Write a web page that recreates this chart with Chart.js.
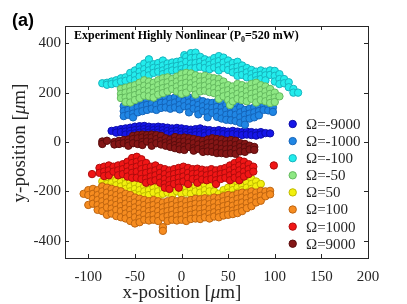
<!DOCTYPE html>
<html>
<head>
<meta charset="utf-8">
<script src="https://cdn.jsdelivr.net/npm/chart.js@4.4.1/dist/chart.umd.min.js"></script>
<style>
  body { margin: 0; background: #fff; }
  canvas { display: block; }
</style>
</head>
<body>
<canvas id="scatterChart" width="407" height="304"></canvas>
<script>
// tick values shown on the axes
const xTickVals = [-100, -50, 0, 50, 100, 150, 200];
const yTickVals = [-400, -200, 0, 200, 400];

// legend labels, in legend order
const seriesLabels = ['Ω=-9000', 'Ω=-1000', 'Ω=-100', 'Ω=-50', 'Ω=50', 'Ω=100', 'Ω=1000', 'Ω=9000'];

// measured positions, grouped as [x, [y, y, ...]] (µm)
const omegaM9000 = [
  [-75, [45]], [-70, [48, 38]], [-65, [52, 40]], [-60, [55, 42, 30]], [-55, [58, 45, 32]],
  [-50, [62, 48, 35]], [-45, [64, 50, 38]], [-40, [65, 52, 40]], [-35, [62, 50, 38]],
  [-30, [60, 48, 36]], [-25, [62, 50, 38]], [-20, [60, 48, 35]], [-15, [58, 45, 32]],
  [-10, [55, 42, 30, 15]], [-5, [57, 45, 32, 18]], [0, [55, 42, 30, 10]], [5, [52, 40, 28, -5]],
  [10, [50, 38, 25, -10]], [15, [52, 40, 28, -12]], [20, [55, 42, 30, -15]], [25, [50, 38, 25, -18]],
  [30, [48, 36, -15]], [35, [45, 33, -18]], [40, [48, 35, -20]], [45, [45, 32, -15]],
  [50, [42, 30, -10]], [55, [45, 32, -18]], [60, [42, 30, -12]], [65, [40, 28]], [70, [42, 30]],
  [75, [40, 28]], [80, [38, 26]], [85, [40, 30]], [90, [36]], [95, [35]]
];
const omegaM1000 = [
  [-62, [145, 125, 105]], [-57, [150, 130, 110]], [-52, [155, 135, 115, 100]], [-47, [160, 140, 120]],
  [-42, [165, 145, 125]], [-37, [170, 150, 130]], [-32, [175, 155, 135]], [-27, [170, 150, 130]],
  [-22, [178, 158, 138]], [-17, [180, 160, 140]], [-12, [175, 155, 135]], [-7, [180, 160, 140]],
  [-2, [190, 170, 150, 132]], [3, [185, 165, 145]], [8, [180, 160, 140, 120]], [13, [175, 155, 135]],
  [18, [170, 150, 130, 112]], [23, [165, 145, 125]], [28, [160, 140, 120, 100]], [33, [158, 138, 118]],
  [38, [162, 142, 122, 102]], [43, [160, 140, 120, 95]], [48, [150, 130, 110, 90]], [53, [155, 135, 115, 88]],
  [58, [150, 130, 110, 85]], [63, [140, 120, 100, 78]], [68, [130, 110, 90, 70]], [73, [135, 115, 95]],
  [78, [140, 120, 100]], [83, [145, 125, 108]], [88, [150, 130]], [93, [148, 128]], [98, [140, 122]]
];
const omegaM100 = [
  [-85, [238]], [-80, [240, 232]], [-75, [245, 235]], [-70, [250, 238]], [-65, [258, 245]],
  [-60, [262, 248]], [-55, [280, 255]], [-50, [290, 270, 250]], [-45, [305, 285, 265]],
  [-40, [318, 295, 275]], [-35, [335, 310, 290, 270]], [-30, [315, 300, 280]], [-25, [320, 300, 285]],
  [-20, [330, 310, 290, 275]], [-15, [318, 300, 283]], [-10, [322, 305, 290]], [-5, [325, 308, 290]],
  [0, [330, 312, 295, 280]], [3, [352]], [5, [345, 325, 300]], [10, [360, 340, 318, 298]],
  [15, [362, 342, 320, 300]], [20, [345, 325, 305]], [25, [335, 318, 300]], [30, [330, 312, 295]],
  [35, [340, 322, 302]], [40, [348, 328, 308, 290]], [45, [342, 322, 300]], [50, [330, 310, 292]],
  [55, [320, 300, 282]], [60, [325, 305, 285, 268]], [65, [310, 292, 272]], [70, [300, 282, 262]],
  [75, [292, 275, 258]], [80, [285, 268, 250]], [85, [290, 272, 255]], [90, [285, 270, 250]],
  [95, [290, 272]], [100, [288, 268, 245]], [105, [275, 255, 235]], [110, [255, 238]],
  [115, [242, 222]], [120, [215, 200]], [125, [200]]
];
const omegaM50 = [
  [-65, [215, 195, 178]], [-60, [220, 200, 180, 162]], [-55, [225, 205, 185, 160]], [-50, [230, 210, 190, 170]],
  [-45, [240, 218, 198, 178]], [-40, [250, 228, 208, 188]], [-35, [245, 225, 205, 185]],
  [-30, [240, 220, 200, 180]], [-25, [250, 230, 210, 192]], [-20, [258, 238, 218, 198]],
  [-15, [262, 242, 222, 205]], [-10, [255, 235, 215]], [-5, [265, 245, 225, 205]],
  [0, [275, 255, 235, 215, 195]], [5, [280, 260, 240, 220, 200]], [10, [278, 258, 238, 218]],
  [15, [270, 250, 230, 210, 192]], [20, [265, 245, 225, 205]], [25, [268, 248, 228, 208]],
  [30, [262, 242, 222, 202]], [35, [258, 238, 218, 198]], [40, [255, 235, 215, 195, 175]],
  [45, [245, 225, 205, 185]], [50, [230, 210, 190, 170]], [52, [150]], [55, [225, 205, 185, 165]],
  [60, [235, 215, 195, 175]], [65, [230, 210, 190, 170]], [70, [225, 205, 185, 165]],
  [75, [235, 215, 195, 175]], [80, [240, 220, 200, 180, 160]], [85, [230, 210, 190, 170]],
  [90, [225, 205, 185, 165]], [95, [215, 195, 175, 158]], [100, [200, 180, 162]], [105, [185]]
];
const omegaP50 = [
  [-85, [-160, -178]], [-80, [-150, -170, -188]], [-75, [-145, -165, -185]], [-70, [-155, -175, -195]],
  [-65, [-140, -160, -180, -200]], [-60, [-150, -170, -190]], [-55, [-135, -160, -180, -200]],
  [-50, [-170, -190, -210]], [-45, [-175, -195, -215]], [-40, [-180, -200, -220]],
  [-35, [-175, -195, -215]], [-30, [-185, -205]], [-25, [-180, -200, -220]], [-20, [-190, -210]],
  [-15, [-185, -205]], [-10, [-195, -215]], [-5, [-200]], [0, [-195, -210]], [5, [-185, -205]],
  [10, [-190, -210]], [15, [-180, -200]], [20, [-185, -205]], [25, [-175, -195, -215]],
  [30, [-180, -200]], [35, [-200]], [40, [-210, -228]], [45, [-195, -215]], [50, [-185, -205]],
  [55, [-175, -195, -215]], [60, [-165, -185, -205]], [65, [-155, -175, -195]],
  [70, [-145, -165, -185, -205]], [75, [-150, -170, -190]], [80, [-160, -180]], [85, [-170]]
];
const omegaP100 = [
  [-105, [-210]], [-100, [-195, -215, -255]], [-95, [-190, -210, -230, -250]],
  [-90, [-195, -215, -235, -255, -275]], [-85, [-180, -200, -220, -240, -260, -280]],
  [-80, [-185, -205, -225, -245, -265, -295]], [-75, [-190, -210, -230, -250, -270, -290]],
  [-70, [-195, -215, -235, -255, -275, -300]], [-65, [-200, -220, -240, -260, -280, -305]],
  [-60, [-210, -230, -250, -270, -290, -310]], [-55, [-215, -235, -255, -275, -295, -320]],
  [-50, [-225, -245, -265, -285, -305, -330]], [-45, [-230, -250, -270, -290, -310, -325]],
  [-40, [-235, -255, -275, -295, -315]], [-35, [-240, -260, -280, -300, -318]],
  [-30, [-235, -255, -275, -295, -315]], [-25, [-240, -260, -280, -300, -320]],
  [-20, [-245, -265, -285, -305, -345, -360]], [-15, [-240, -260, -280, -300, -320]],
  [-10, [-235, -255, -275, -295, -315]], [-5, [-240, -260, -280, -300, -318]],
  [0, [-235, -255, -275, -295, -315]], [5, [-240, -260, -280, -300, -320]],
  [10, [-235, -255, -275, -295, -312]], [15, [-230, -250, -270, -290, -310]],
  [20, [-232, -252, -272, -292, -312]], [25, [-228, -248, -268, -288, -305]],
  [30, [-232, -252, -272, -292, -310]], [35, [-225, -245, -265, -285, -302]],
  [40, [-228, -248, -268, -288, -305]], [45, [-220, -240, -260, -280, -298]],
  [50, [-215, -235, -255, -275, -295]], [55, [-218, -238, -258, -278, -292]],
  [60, [-210, -230, -250, -270, -288]], [65, [-205, -225, -245, -265, -280]],
  [70, [-208, -228, -248, -268]], [75, [-200, -220, -240, -260]], [80, [-205, -225, -245]],
  [85, [-198, -218, -238]], [90, [-200, -220]], [95, [-198, -212]]
];
const omegaP1000 = [
  [-96, [-130]], [-88, [-105, -125]], [-83, [-100, -120, -138]], [-78, [-95, -115, -135]],
  [-73, [-100, -120]], [-68, [-95, -115, -135]], [-63, [-90, -110, -130]], [-58, [-80, -100, -120, -140]],
  [-53, [-65, -85, -105, -125, -145]], [-48, [-60, -80, -100, -120, -145]],
  [-43, [-70, -90, -110, -130, -150]], [-38, [-85, -105, -125, -148, -165]],
  [-33, [-100, -120, -140, -160]], [-28, [-95, -115, -135, -155]], [-23, [-105, -125, -145, -165]],
  [-18, [-110, -130, -150, -170, -185]], [-13, [-115, -135, -155, -175, -190]],
  [-8, [-110, -130, -150, -170]], [-3, [-105, -125, -145, -165, -185]], [2, [-100, -120, -140, -160]],
  [7, [-105, -125, -145, -170]], [12, [-110, -130, -150]], [17, [-108, -128, -148, -165]],
  [22, [-112, -132, -152]], [27, [-115, -135, -155]], [32, [-110, -130, -150]],
  [37, [-115, -135, -155, -170]], [42, [-110, -130, -150]], [47, [-105, -125, -145]],
  [52, [-95, -115, -135, -155]], [57, [-85, -105, -125, -145]], [62, [-75, -95, -115, -135, -155]],
  [67, [-80, -100, -120, -140]], [72, [-90, -110, -130]], [77, [-100, -120]], [99, [-95]]
];
const omegaP9000 = [
  [-85, [2, -8]], [-80, [5]], [-72, [0, -10]], [-67, [5, -8]], [-62, [8, -5]], [-57, [10, -3, -15]],
  [-52, [25, 12, -5]], [-47, [28, 15, -8]], [-42, [30, 18, 0, -12]], [-37, [28, 15, 2]],
  [-32, [30, 18, 0, -15]], [-27, [28, 12, -5]], [-22, [25, 5, -10]], [-17, [15, -2, -15]],
  [-12, [10, -5, -20]], [-7, [20, 5, -12, -25]], [-2, [15, 0, -15, -30]], [3, [18, 2, -18, -32]],
  [8, [15, -2, -20]], [13, [12, -5, -25, -35]], [18, [8, -10, -28]], [23, [5, -12, -30, -40]],
  [28, [10, -5, -22, -38]], [33, [15, -2, -20, -40]], [38, [12, -5, -25, -45]],
  [43, [10, -8, -28, -45]], [48, [5, -10, -30, -48]], [53, [8, -8, -28, -45]],
  [58, [5, -12, -30, -48]], [63, [-5, -20, -38]], [68, [-8, -22, -40]], [73, [-15, -30]], [78, [-20, -32]]
];

const seriesCols = [omegaM9000, omegaM1000, omegaM100, omegaM50, omegaP50, omegaP100, omegaP1000, omegaP9000];
const fillColors = ['rgb(22,22,232)', 'rgb(32,134,228)', 'rgb(34,236,236)', 'rgb(142,232,132)',
                    'rgb(242,240,14)', 'rgb(246,140,32)', 'rgb(240,22,22)', 'rgb(132,22,22)'];
const edgeColors = ['rgb(12,12,170)', 'rgb(20,100,185)', 'rgb(22,180,190)', 'rgb(100,185,95)',
                    'rgb(190,185,0)', 'rgb(190,100,15)', 'rgb(175,12,12)', 'rgb(90,12,12)'];

const axisColor = '#262626';
const serif = '"Liberation Serif", "Times New Roman", serif';

const datasets = seriesCols.map((cols, i) => ({
    label: seriesLabels[i],
    data: cols.flatMap(([x, ys]) => ys.map(y => ({ x: x, y: y }))),
    backgroundColor: fillColors[i],
    borderColor: edgeColors[i],
    borderWidth: 1,
    pointRadius: 3.7,
    order: seriesCols.length - i // later series drawn on top
}));

// frame, inward ticks, legend and texts
const decorPlugin = {
    id: 'decor',
    afterDraw(chart) {
        const ctx = chart.ctx;
        const a = chart.chartArea;
        const xs = chart.scales.x;
        const ys = chart.scales.y;
        ctx.save();
        ctx.strokeStyle = axisColor;
        ctx.lineWidth = 1;
        ctx.strokeRect(Math.round(a.left) + 0.5, Math.round(a.top) + 0.5,
                       Math.round(a.right - a.left), Math.round(a.bottom - a.top));
        ctx.beginPath();
        xTickVals.forEach(v => {
            const px = Math.round(xs.getPixelForValue(v)) + 0.5;
            ctx.moveTo(px, a.bottom); ctx.lineTo(px, a.bottom - 4);
            ctx.moveTo(px, a.top); ctx.lineTo(px, a.top + 4);
        });
        yTickVals.forEach(v => {
            const py = Math.round(ys.getPixelForValue(v)) + 0.5;
            ctx.moveTo(a.left, py); ctx.lineTo(a.left + 4, py);
            ctx.moveTo(a.right, py); ctx.lineTo(a.right - 4, py);
        });
        ctx.stroke();

        // legend
        ctx.font = '15px ' + serif;
        ctx.textBaseline = 'middle';
        ctx.textAlign = 'left';
        seriesLabels.forEach((lab, i) => {
            const y = 124 + i * 17.1;
            ctx.beginPath();
            ctx.arc(292.7, y, 3.7, 0, Math.PI * 2);
            ctx.fillStyle = fillColors[i];
            ctx.fill();
            ctx.lineWidth = 1;
            ctx.strokeStyle = edgeColors[i];
            ctx.stroke();
            ctx.fillStyle = axisColor;
            ctx.fillText(lab, 306, y + 1);
        });

        // panel label
        ctx.fillStyle = '#000';
        ctx.textBaseline = 'alphabetic';
        ctx.font = 'bold 18px "Liberation Sans", Arial, sans-serif';
        ctx.fillText('(a)', 12, 26);

        // inner title with subscript
        ctx.font = 'bold 12px ' + serif;
        let tx = 74;
        const t1 = 'Experiment Highly Nonlinear (P';
        ctx.fillText(t1, tx, 39);
        tx += ctx.measureText(t1).width;
        ctx.font = 'bold 8px ' + serif;
        ctx.fillText('0', tx, 42);
        tx += ctx.measureText('0').width;
        ctx.font = 'bold 12px ' + serif;
        ctx.fillText('=520 mW)', tx, 39);

        // axis titles with italic mu
        const drawTitle = (parts, cx, cy, rot) => {
            ctx.save();
            ctx.translate(cx, cy);
            ctx.rotate(rot);
            ctx.fillStyle = axisColor;
            ctx.textBaseline = 'middle';
            let w = 0;
            parts.forEach(p => { ctx.font = p[1] + '19px ' + serif; w += ctx.measureText(p[0]).width; });
            let x = -w / 2;
            parts.forEach(p => {
                ctx.font = p[1] + '19px ' + serif;
                ctx.fillText(p[0], x, 0);
                x += ctx.measureText(p[0]).width;
            });
            ctx.restore();
        };
        drawTitle([['x-position [', ''], ['μ', 'italic '], ['m]', '']], 182, 293, 0);
        drawTitle([['y-position [', ''], ['μ', 'italic '], ['m]', '']], 20, 143, -Math.PI / 2);
        ctx.restore();
    }
};

new Chart(document.getElementById('scatterChart').getContext('2d'), {
    type: 'scatter',
    data: { datasets: datasets },
    options: {
        responsive: false,
        animation: false,
        layout: { padding: { top: 26, right: 39, left: 0, bottom: 0 } },
        plugins: {
            legend: { display: false },
            tooltip: { enabled: false }
        },
        scales: {
            x: {
                type: 'linear',
                min: -125,
                max: 200,
                afterBuildTicks: s => { s.ticks = xTickVals.map(v => ({ value: v })); },
                afterFit: s => { s.height = 46; },
                grid: { display: false, drawTicks: false },
                border: { display: false },
                ticks: { color: axisColor, padding: 10, font: { family: serif, size: 15 }, maxRotation: 0 }
            },
            y: {
                type: 'linear',
                min: -470,
                max: 470,
                afterBuildTicks: s => { s.ticks = yTickVals.map(v => ({ value: v })); },
                afterFit: s => { s.width = 65; },
                grid: { display: false, drawTicks: false },
                border: { display: false },
                ticks: { color: axisColor, padding: 4, font: { family: serif, size: 15 } }
            }
        }
    },
    plugins: [decorPlugin]
});
</script>
</body>
</html>
